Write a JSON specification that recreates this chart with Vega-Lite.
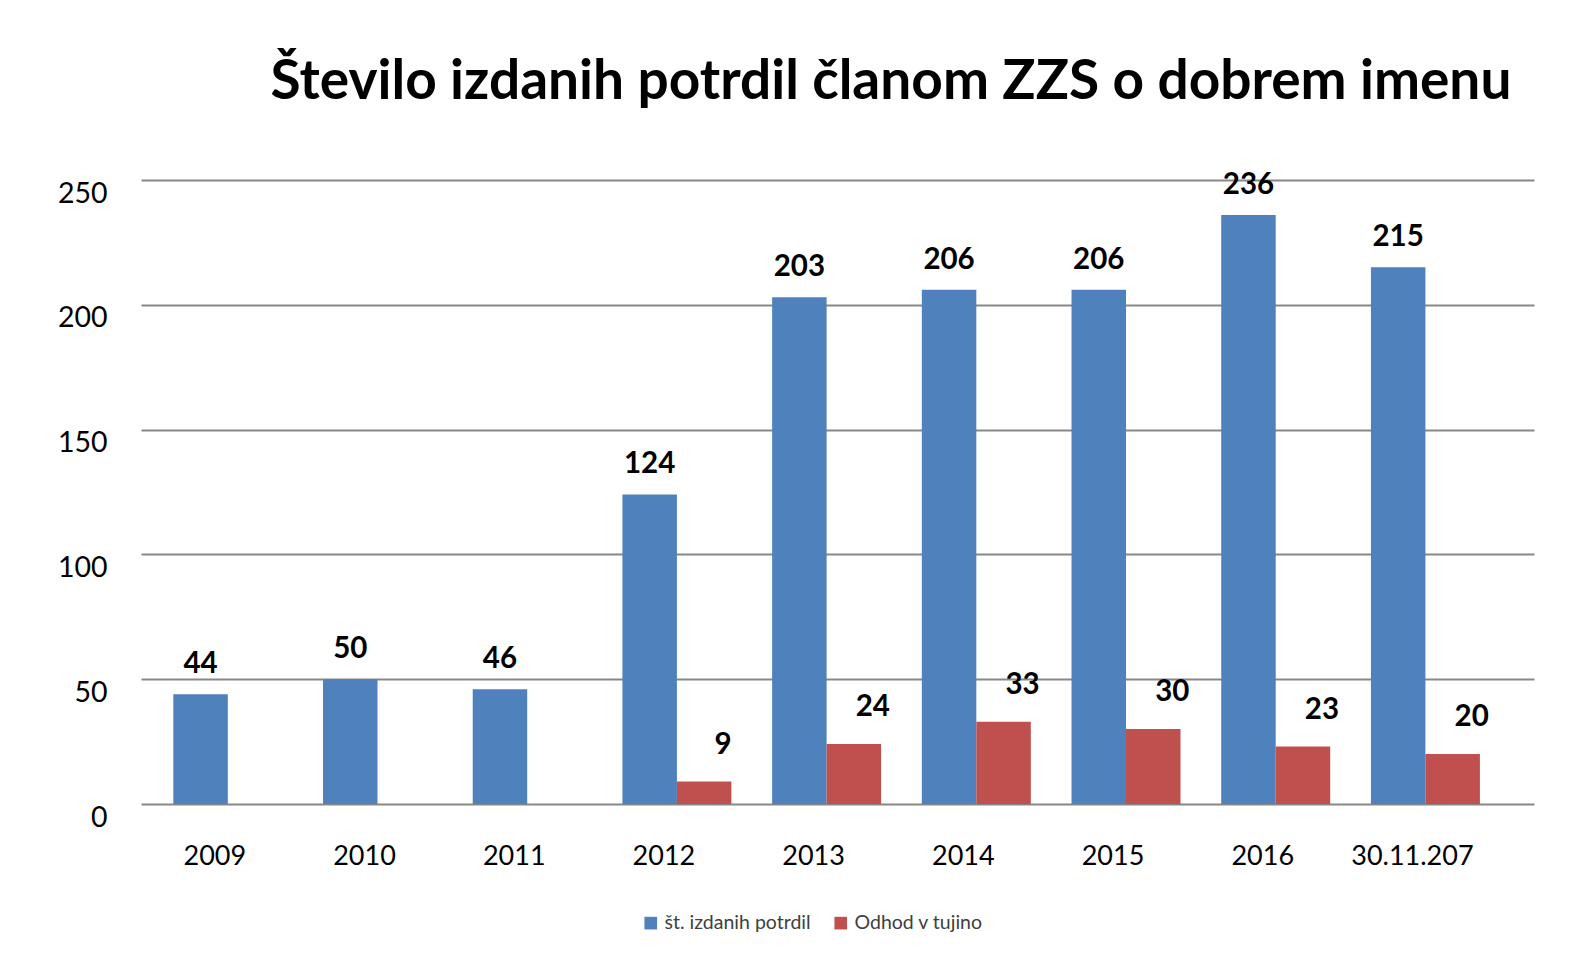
{
  "$schema": "https://vega.github.io/schema/vega-lite/v6.json",
  "width": 1393,
  "height": 624,
  "autosize": {"type": "none"},
  "padding": {"left": 141, "top": 180, "right": 46, "bottom": 154},
  "background": "white",
  "title": {
    "text": "Število izdanih potrdil članom ZZS o dobrem imenu",
    "font": "Lato",
    "fontWeight": "bold",
    "fontSize": 55,
    "color": "black",
    "anchor": "middle",
    "baseline": "alphabetic",
    "offset": 82,
    "dx": 53.5,
    "dy": 66
  },
  "data": {
    "values": [
      {"leto": "2009", "serija": "št. izdanih potrdil", "vrednost": 44},
      {"leto": "2010", "serija": "št. izdanih potrdil", "vrednost": 50},
      {"leto": "2011", "serija": "št. izdanih potrdil", "vrednost": 46},
      {"leto": "2012", "serija": "št. izdanih potrdil", "vrednost": 124},
      {"leto": "2012", "serija": "Odhod v tujino", "vrednost": 9},
      {"leto": "2013", "serija": "št. izdanih potrdil", "vrednost": 203},
      {"leto": "2013", "serija": "Odhod v tujino", "vrednost": 24},
      {"leto": "2014", "serija": "št. izdanih potrdil", "vrednost": 206},
      {"leto": "2014", "serija": "Odhod v tujino", "vrednost": 33},
      {"leto": "2015", "serija": "št. izdanih potrdil", "vrednost": 206},
      {"leto": "2015", "serija": "Odhod v tujino", "vrednost": 30},
      {"leto": "2016", "serija": "št. izdanih potrdil", "vrednost": 236},
      {"leto": "2016", "serija": "Odhod v tujino", "vrednost": 23},
      {"leto": "30.11.207", "serija": "št. izdanih potrdil", "vrednost": 215},
      {"leto": "30.11.207", "serija": "Odhod v tujino", "vrednost": 20}
    ]
  },
  "encoding": {
    "x": {
      "field": "leto",
      "type": "nominal",
      "sort": null,
      "scale": {"paddingInner": 0.272, "paddingOuter": 0.2886, "align": 0.374},
      "axis": {
        "title": null,
        "labelAngle": 0,
        "labelFont": "Lato",
        "labelFontSize": 27,
        "labelColor": "black",
        "labelPadding": 39,
        "labelOffset": -13,
        "ticks": false,
        "domain": false,
        "grid": false
      }
    },
    "xOffset": {
      "field": "serija",
      "type": "nominal",
      "scale": {"domain": ["št. izdanih potrdil", "Odhod v tujino"], "paddingInner": 0, "paddingOuter": 0}
    },
    "y": {
      "field": "vrednost",
      "type": "quantitative",
      "scale": {"domain": [0, 250], "nice": false},
      "axis": {
        "title": null,
        "values": [0, 50, 100, 150, 200, 250],
        "labelFont": "Lato",
        "labelFontSize": 28.5,
        "labelColor": "black",
        "labelPadding": 34,
        "labelOffset": 13,
        "ticks": false,
        "domain": false,
        "grid": true,
        "gridColor": "#878787",
        "gridWidth": 2
      }
    }
  },
  "layer": [
    {
      "mark": {"type": "bar"},
      "encoding": {
        "color": {
          "field": "serija",
          "type": "nominal",
          "scale": {"domain": ["št. izdanih potrdil", "Odhod v tujino"], "range": ["#4F81BD", "#C0504D"]},
          "legend": {
            "title": null,
            "orient": "none",
            "legendX": 500,
            "legendY": 733,
            "direction": "horizontal",
            "symbolType": "square",
            "symbolSize": 160,
            "labelFont": "Lato",
            "labelFontSize": 19.5,
            "labelColor": "#404040",
            "columnPadding": 20,
            "symbolStrokeWidth": 0
          }
        }
      }
    },
    {
      "transform": [{"filter": "datum.serija === 'št. izdanih potrdil'"}],
      "mark": {"type": "text", "font": "Lato", "fontWeight": "bold", "fontSize": 29.5, "color": "black", "baseline": "alphabetic", "dy": -21},
      "encoding": {"text": {"field": "vrednost", "type": "quantitative"}}
    },
    {
      "transform": [{"filter": "datum.serija === 'Odhod v tujino'"}],
      "mark": {"type": "text", "font": "Lato", "fontWeight": "bold", "fontSize": 29.5, "color": "black", "baseline": "alphabetic", "dx": 19, "dy": -28},
      "encoding": {"text": {"field": "vrednost", "type": "quantitative"}}
    }
  ],
  "config": {"view": {"stroke": null}}
}
